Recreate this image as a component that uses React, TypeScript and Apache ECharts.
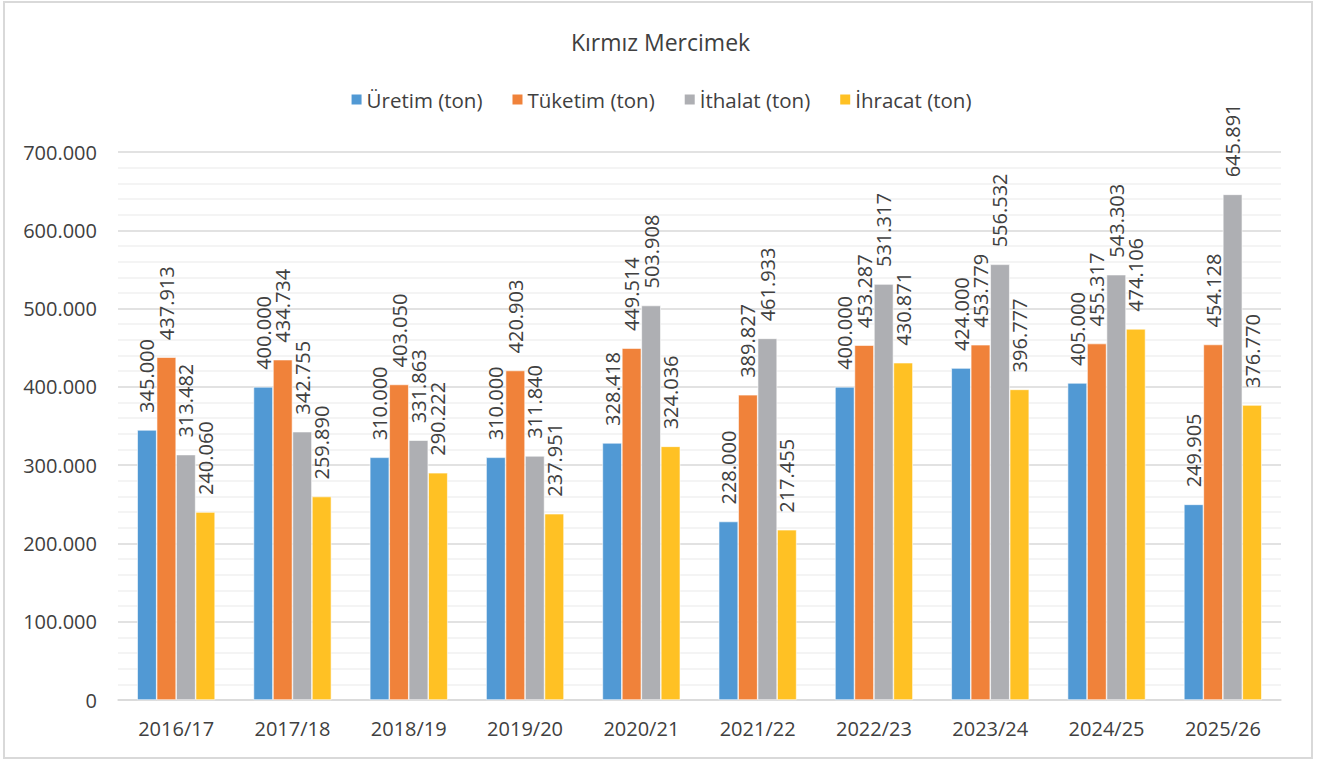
import React, { useEffect, useRef } from "react";
import * as echarts from "echarts";

const categories = ["2016/17", "2017/18", "2018/19", "2019/20", "2020/21", "2021/22", "2022/23", "2023/24", "2024/25", "2025/26"];
const uretim = [345000, 400000, 310000, 310000, 328418, 228000, 400000, 424000, 405000, 249905];
const tuketim = [437913, 434734, 403050, 420903, 449514, 389827, 453287, 453779, 455317, 454128];
const ithalat = [313482, 342755, 331863, 311840, 503908, 461933, 531317, 556532, 543303, 645891];
const ihracat = [240060, 259890, 290222, 237951, 324036, 217455, 430871, 396777, 474106, 376770];
const seriesNames = ["Üretim (ton)", "Tüketim (ton)", "İthalat (ton)", "İhracat (ton)"];
const colors = ["#5199D4", "#F0823A", "#AEAFB3", "#FFC124"];

const fmt = (v: number) => {
  const s = Math.round(v).toString();
  return s.replace(/\B(?=(\d{3})+(?!\d))/g, ".");
};

const FONT = "'Open Sans', sans-serif";
const TXT = "#404040";

export default function App() {
  const ref = useRef<HTMLDivElement>(null);
  useEffect(() => {
    if (!ref.current) return;
    const chart = echarts.init(ref.current, undefined, { renderer: "svg" });
    const datasets = [uretim, tuketim, ithalat, ihracat];
    chart.setOption({
      animation: false,
      backgroundColor: "#fff",
      textStyle: { fontFamily: FONT },
      title: {
        text: "Kırmız Mercimek",
        left: "center",
        top: 25,
        textStyle: { fontFamily: FONT, fontSize: 23, fontWeight: "normal", color: TXT },
      },
      legend: {
        top: 84,
        left: "center",
        itemWidth: 12,
        itemHeight: 12,
        itemGap: 28,
        icon: "rect",
        textStyle: { fontFamily: FONT, fontSize: 20.5, color: TXT, padding: [0, 0, 0, -1] },
        data: seriesNames,
      },
      grid: { left: 118, right: 40, top: 152, bottom: 62 },
      xAxis: {
        type: "category",
        data: categories,
        axisTick: { show: false },
        axisLine: { lineStyle: { color: "#D9D9D9", width: 1.5 } },
        axisLabel: { fontFamily: FONT, fontSize: 20, color: TXT, margin: 18 },
      },
      yAxis: {
        type: "value",
        min: 0,
        max: 700000,
        interval: 100000,
        axisLine: { show: false },
        axisTick: { show: false },
        axisLabel: { fontFamily: FONT, fontSize: 20, color: TXT, margin: 21, formatter: (v: number) => fmt(v) },
        splitLine: { lineStyle: { color: "#D9D9D9", width: 1.5 } },
        minorTick: { show: false, splitNumber: 5 },
        minorSplitLine: { show: true, lineStyle: { color: "#F0F0F0", width: 1.5 } },
      },
      series: datasets.map((d, i) => ({
        name: seriesNames[i],
        type: "bar",
        data: d,
        barGap: "0%",
        barCategoryGap: "33%",
        itemStyle: { color: colors[i], borderColor: "#ffffff", borderWidth: 0.6 },
        label: {
          show: true,
          position: "top",
          distance: 17,
          rotate: 90,
          align: "left",
          verticalAlign: "middle",
          fontFamily: FONT,
          fontSize: 20,
          color: TXT,
          formatter: (p: any) => fmt(p.value),
        },
      })),
      graphic: [
        {
          type: "rect",
          shape: { x: 4, y: 2, width: 1308, height: 756 },
          style: { fill: "none", stroke: "#D9D9D9", lineWidth: 2 },
          silent: true,
        },
      ],
    });
    return () => chart.dispose();
  }, []);
  return <div ref={ref} style={{ position: "absolute", left: 0, top: 0, width: 1321, height: 762 }} />;
}
